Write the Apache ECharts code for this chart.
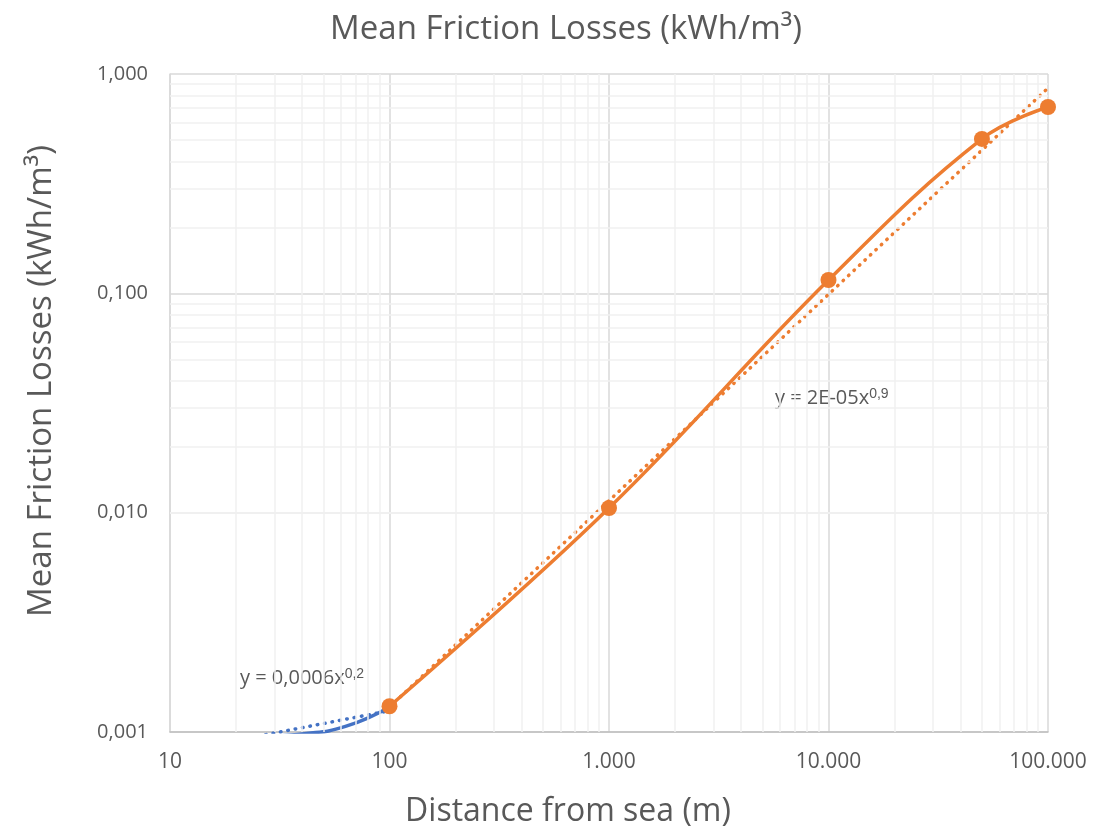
<!DOCTYPE html>
<html>
<head>
<meta charset="utf-8">
<title>Mean Friction Losses</title>
<script src="https://cdn.jsdelivr.net/npm/echarts@6/dist/echarts.min.js"></script>
<style>
  html, body { margin: 0; padding: 0; background: #fff; }
  #chart { width: 1094px; height: 832px; }
</style>
</head>
<body>
<div id="chart"></div>
<script>
// distance from sea (m) / mean friction losses (kWh/m3)
const blueX = [10, 25, 40, 63, 100]
const blueY = [0.0009, 0.00095, 0.00098, 0.00106, 0.0013]
const orangeX = [100, 1000, 10000, 50000, 100000]
const orangeY = [0.00131, 0.0105, 0.115, 0.506, 0.707]
// power trend lines, read at their ends
const blueTrendX = [10, 100]
const blueTrendY = [0.0008, 0.00125]
const orangeTrendX = [100, 100000]
const orangeTrendY = [0.0013, 0.863]
// minor grid values
const xMinor = [20, 30, 40, 50, 60, 70, 80, 90, 200, 300, 400, 500, 600, 700, 800, 900,
  2000, 3000, 4000, 5000, 6000, 7000, 8000, 9000, 20000, 30000, 40000, 50000, 60000, 70000, 80000, 90000]
const yMinor = [0.002, 0.003, 0.004, 0.005, 0.006, 0.007, 0.008, 0.009, 0.02, 0.03, 0.04, 0.05,
  0.06, 0.07, 0.08, 0.09, 0.2, 0.3, 0.4, 0.5, 0.6, 0.7, 0.8, 0.9]

const pairs = (xs, ys) => xs.map((x, i) => [x, ys[i]])
const font = 'Open Sans, Noto Sans, sans-serif'
const grey = '#595959'

const chart = echarts.init(document.getElementById('chart'))
const option = {
  animation: false,
  textStyle: { fontFamily: font },
  title: {
    text: 'Mean Friction Losses (kWh/m³)',
    left: 561,
    top: 8,
    textAlign: 'center',
    textStyle: { fontFamily: font, fontSize: 33, fontWeight: 'normal', color: grey }
  },
  grid: { left: 170, right: 46, top: 74, bottom: 100, outerBoundsMode: 'none' },
  xAxis: {
    type: 'log',
    logBase: 10,
    min: 10,
    max: 100000,
    name: 'Distance from sea (m)',
    nameLocation: 'middle',
    nameGap: 64,
    nameTextStyle: { fontSize: 32, color: grey, padding: [0, 82, 0, 0] },
    axisLine: { show: true, lineStyle: { color: '#bfbfbf', width: 1.5 } },
    axisTick: { show: false },
    axisLabel: {
      margin: 20,
      fontSize: 21,
      color: grey,
      formatter: v => String(Math.round(v)).replace(/\B(?=(\d{3})+(?!\d))/g, '.')
    },
    splitLine: { show: true, lineStyle: { color: '#d9d9d9', width: 1.5 } }
  },
  yAxis: {
    type: 'log',
    logBase: 10,
    min: 0.001,
    max: 1,
    name: 'Mean Friction Losses (kWh/m³)',
    nameLocation: 'middle',
    nameGap: 112,
    nameTextStyle: { fontSize: 33, color: grey, padding: [0, 0, 0, 44] },
    axisLine: { show: true, lineStyle: { color: '#d9d9d9', width: 1.5 } },
    axisTick: { show: false },
    axisLabel: {
      margin: 22,
      fontSize: 20,
      color: grey,
      formatter: v => v.toFixed(3).replace('.', ',')
    },
    splitLine: { show: true, lineStyle: { color: '#d9d9d9', width: 1.5 } }
  },
  graphic: [
    {
      type: 'text',
      left: 240,
      top: 667,
      style: {
        text: 'y = 0,0006x{sup|0,2}',
        fontFamily: font,
        fontSize: 20,
        fill: grey,
        rich: { sup: { fontSize: 14, verticalAlign: 'top', padding: [0, 0, 9, 0] } }
      }
    },
    {
      type: 'text',
      left: 775,
      top: 387,
      style: {
        text: 'y = 2E-05x{sup|0,9}',
        fontFamily: font,
        fontSize: 20,
        fill: grey,
        rich: { sup: { fontSize: 14, verticalAlign: 'top', padding: [0, 0, 9, 0] } }
      }
    }
  ],
  series: [
    {
      type: 'line',
      z: 1,
      silent: true,
      showSymbol: false,
      data: [[10, 0.001]],
      lineStyle: { opacity: 0 },
      markLine: {
        silent: true,
        symbol: 'none',
        label: { show: false },
        lineStyle: { color: '#f0f0f0', type: 'solid', width: 1.5 },
        emphasis: { disabled: true },
        data: xMinor.map(v => ({ xAxis: v })).concat(yMinor.map(v => ({ yAxis: v })))
      }
    },
    {
      name: 'blue trend',
      type: 'line',
      z: 3,
      showSymbol: false,
      data: pairs(blueTrendX, blueTrendY),
      lineStyle: { color: '#4472C4', width: 3.5, type: [0.5, 7], cap: 'round' }
    },
    {
      name: 'blue',
      type: 'line',
      z: 4,
      smooth: 0.5,
      showSymbol: false,
      data: pairs(blueX, blueY),
      lineStyle: { color: '#4472C4', width: 3.5 }
    },
    {
      name: 'orange trend',
      type: 'line',
      z: 3,
      showSymbol: false,
      data: pairs(orangeTrendX, orangeTrendY),
      lineStyle: { color: '#ED7D31', width: 3.5, type: [0.5, 7], cap: 'round' }
    },
    {
      name: 'orange',
      type: 'line',
      z: 5,
      smooth: 0.4,
      symbol: 'circle',
      symbolSize: 16,
      data: pairs(orangeX, orangeY),
      itemStyle: { color: '#ED7D31' },
      lineStyle: { color: '#ED7D31', width: 3.5 }
    }
  ]
}
chart.setOption(option)
</script>
</body>
</html>
